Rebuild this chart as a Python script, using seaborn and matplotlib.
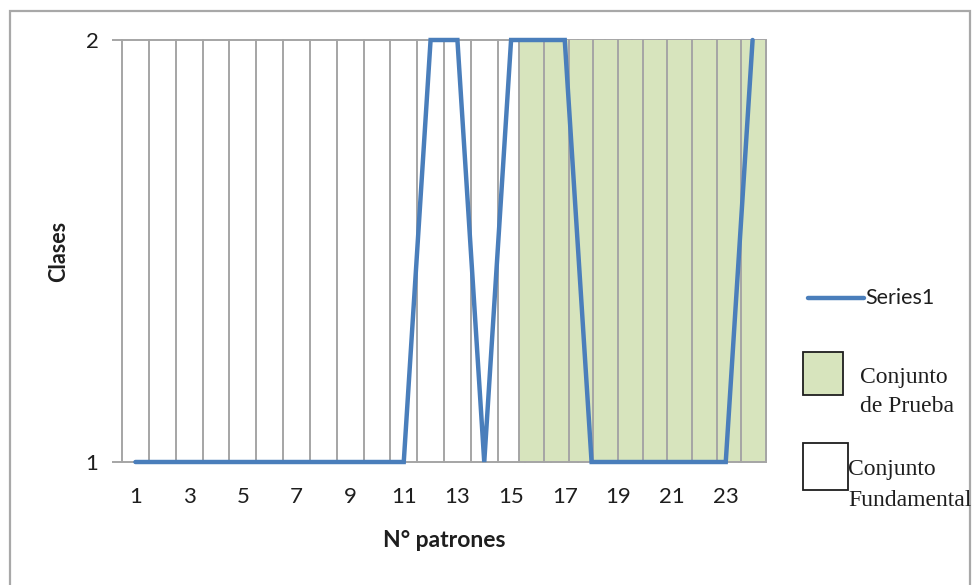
import numpy as np
import pandas as pd
import matplotlib
matplotlib.use("Agg")
import matplotlib.pyplot as plt
import seaborn as sns
from matplotlib.patches import Rectangle
from matplotlib.lines import Line2D

# Class assigned to each pattern
patrones = list(range(1, 25))
clases = [1, 1, 1, 1, 1, 1, 1, 1, 1, 1, 1, 2, 2, 1, 2, 2, 2, 1, 1, 1, 1, 1, 1, 2]

# Extent of the test set band (in pattern units)
prueba_inicio = 15.3
prueba_fin = 24.5
prueba_divisiones = 10

x_ticks = list(range(1, 24, 2))
y_ticks = [1, 2]

sns.set_theme(style="white")
plt.rcParams['font.family'] = ['Lato', 'DejaVu Sans']

W, H = 975, 585
fig = plt.figure(figsize=(W / 100, H / 100), dpi=100)
fig.patch.set_facecolor('white')

ax = fig.add_axes([122 / W, 1 - 462 / H, 644 / W, 422 / H])
ax.set_facecolor('white')

grid_c = '#A5A5A5'
line_c = '#4A7EBB'
band_c = '#D7E4BD'
text_c = '#1E1E1E'

# category boundaries as vertical gridlines
for b in np.arange(0.5, len(patrones) + 1, 1):
    ax.axvline(b, color=grid_c, lw=1.4, zorder=1, clip_on=False)
ax.axhline(2, color=grid_c, lw=1.4, zorder=1, clip_on=False)

# test set band with its own divisions
ax.axvspan(prueba_inicio, prueba_fin, color=band_c, lw=0, zorder=2)
for b in np.linspace(prueba_inicio, prueba_fin, prueba_divisiones + 1):
    ax.axvline(b, color=grid_c, lw=1.4, zorder=3, clip_on=False)

df = pd.DataFrame({'N° patrones': patrones, 'Clases': clases})
sns.lineplot(data=df, x='N° patrones', y='Clases', color=line_c, lw=3.2,
             ax=ax, zorder=5)
for ln in ax.get_lines()[-1:]:
    ln.set_clip_on(False)
    ln.set_solid_joinstyle('miter')

ax.set_xlim(0.5, 24.5)
ax.set_ylim(1, 2)
ax.set_xticks(x_ticks)
ax.set_xticklabels([str(t) for t in x_ticks])
ax.set_yticks(y_ticks)
ax.set_yticklabels([str(t) for t in y_ticks])
ax.tick_params(axis='x', length=0, pad=18, labelsize=16, colors=text_c)
ax.tick_params(axis='y', left=True, length=7, width=1.4, color=grid_c,
               pad=10, labelsize=16, labelcolor=text_c)

for s in ['left', 'right', 'top']:
    ax.spines[s].set_visible(False)
ax.spines['bottom'].set_color(grid_c)
ax.spines['bottom'].set_linewidth(1.4)
ax.spines['bottom'].set_zorder(4)

ax.set_xlabel('N° patrones', fontsize=16.5, fontweight='bold', color=text_c)
ax.set_ylabel('Clases', fontsize=15.5, fontweight='bold', color=text_c)
ax.xaxis.set_label_coords(0.5, -0.161)
ax.yaxis.set_label_coords(-0.082, 0.5)


def fx(px):
    return px / W


def fy(py):
    return 1 - py / H


# legend
fig.add_artist(Line2D([fx(808), fx(864)], [fy(298), fy(298)], color=line_c,
                      lw=3.2, transform=fig.transFigure))
fig.text(fx(865), fy(298), 'Series1', fontsize=15.5, va='center', ha='left',
         color=text_c)

fig.add_artist(Rectangle((fx(803), fy(395)), fx(843) - fx(803), fy(352) - fy(395),
                         facecolor=band_c, edgecolor=text_c, lw=1.3,
                         transform=fig.transFigure))
fig.text(fx(860), fy(378), 'Conjunto', fontsize=17, family='Liberation Serif',
         va='center', ha='left', color=text_c)
fig.text(fx(860), fy(407), 'de Prueba', fontsize=17, family='Liberation Serif',
         va='center', ha='left', color=text_c)

fig.add_artist(Rectangle((fx(803), fy(490)), fx(848) - fx(803), fy(443) - fy(490),
                         facecolor='white', edgecolor=text_c, lw=1.3,
                         transform=fig.transFigure))
fig.text(fx(848), fy(470), 'Conjunto', fontsize=17, family='Liberation Serif',
         va='center', ha='left', color=text_c)
fig.text(fx(848), fy(500), 'Fundamental', fontsize=17, family='Liberation Serif',
         va='center', ha='left', color=text_c)

# chart frame
fig.add_artist(Rectangle((fx(10), -0.05), fx(970) - fx(10), fy(11) + 0.05,
                         facecolor='none', edgecolor='#A8A8A8', lw=1.6,
                         transform=fig.transFigure, clip_on=False))

fig.savefig('out.png', dpi=100, facecolor='white')
